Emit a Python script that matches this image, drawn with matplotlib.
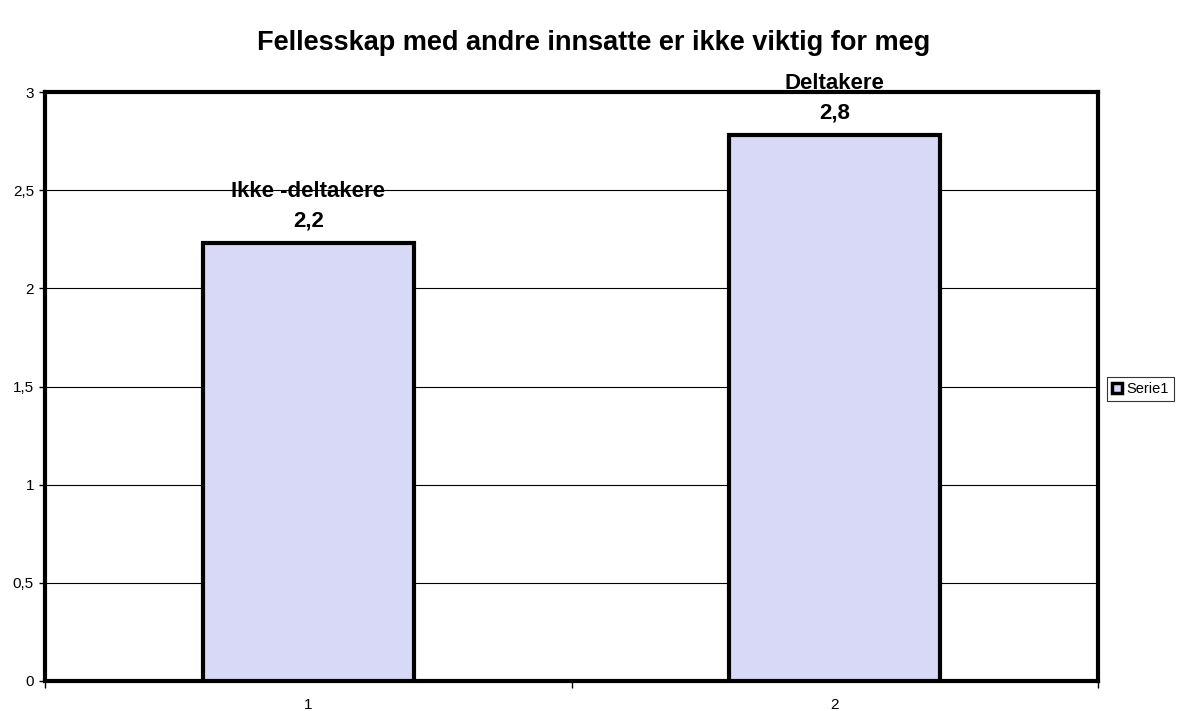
import matplotlib
matplotlib.use("Agg")
import matplotlib.pyplot as plt
from matplotlib.patches import Rectangle

plt.rcParams['font.family'] = ['Liberation Sans', 'DejaVu Sans']

categories = [1, 2]
values = [2.23, 2.78]
bar_labels = ["Ikke -deltakere", "Deltakere"]
value_texts = ["2,2", "2,8"]
yticks = [0, 0.5, 1, 1.5, 2, 2.5, 3]
ytick_labels = ["0", "0,5", "1", "1,5", "2", "2,5", "3"]
title = "Fellesskap med andre innsatte er ikke viktig for meg"
series_name = "Serie1"

fig = plt.figure(figsize=(11.88, 7.11), dpi=100)
ax = fig.add_axes([45/1188, 1-681/711, (1098-45)/1188, (681-92)/711])

bars = ax.bar(categories, values, width=0.4, color='#d8d8f7', edgecolor='black',
              linewidth=3, zorder=3, label=series_name)

ax.set_xlim(0.5, 2.5)
ax.set_ylim(0, 3)
ax.set_yticks(yticks)
ax.set_yticklabels(ytick_labels, fontsize=11)
ax.set_xticks(categories)
ax.set_xticklabels([str(c) for c in categories], fontsize=11)
ax.tick_params(axis='x', length=0, pad=12)
ax.tick_params(axis='y', length=4, width=1, pad=4)
ax.set_xticks([0.5, 1.5, 2.5], minor=True)
ax.tick_params(axis='x', which='minor', length=5, width=1, direction='out')

for y in yticks[1:-1]:
    ax.axhline(y, color='black', linewidth=0.8, zorder=1)

for s in ax.spines.values():
    s.set_linewidth(3)
    s.set_color('black')

for x, v, lab, vt in zip(categories, values, bar_labels, value_texts):
    ax.annotate(vt, (x, v), xytext=(0, 16), textcoords='offset points',
                ha='center', va='center', fontsize=16, fontweight='bold', zorder=5)
    ax.annotate(lab, (x, v), xytext=(0, 37.5), textcoords='offset points',
                ha='center', va='center', fontsize=16, fontweight='bold', zorder=5,
                annotation_clip=False)

fig.text(0.5, 1-43/711, title, ha='center', va='center', fontsize=19.5, fontweight='bold')

leg = fig.legend(handles=[Rectangle((0, 0), 1, 1, facecolor='#d8d8f7', edgecolor='black', linewidth=2.5)],
                 labels=[series_name], loc='center left', bbox_to_anchor=(1107/1188, 1-389/711),
                 fontsize=10.5, frameon=True, fancybox=False, borderpad=0.35, handlelength=0.7,
                 handleheight=0.7, handletextpad=0.3, borderaxespad=0)
leg.get_frame().set_edgecolor('black')
leg.get_frame().set_linewidth(0.8)

fig.savefig("out.png", dpi=100)
